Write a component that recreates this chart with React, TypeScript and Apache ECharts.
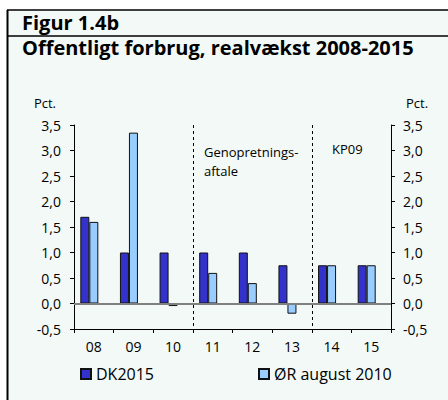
import React, { useEffect, useRef } from "react";
import * as echarts from "echarts";

const categories = ["08", "09", "10", "11", "12", "13", "14", "15"];
const dk2015 = [1.7, 1.0, 1.0, 1.0, 1.0, 0.75, 0.75, 0.75];
const orAug2010 = [1.6, 3.35, -0.05, 0.6, 0.4, -0.2, 0.75, 0.75];
const seriesNames = ["DK2015", "ØR august 2010"];
const yMin = -0.5;
const yMax = 3.5;
const yStep = 0.5;
const dividerAfter = [3, 6];

const FONT = "'Open Sans', 'Noto Sans', sans-serif";

export default function App() {
  const ref = useRef<HTMLDivElement>(null);
  useEffect(() => {
    if (!ref.current) return;
    const chart = echarts.init(ref.current, null, { renderer: "svg" });
    const fmt = (v: number) => v.toFixed(1).replace(".", ",");
    const yAxisBase = {
      type: "value",
      min: yMin,
      max: yMax,
      interval: yStep,
      splitLine: { show: false },
      axisLine: { show: true, lineStyle: { color: "#000", width: 1 } },
      axisTick: { show: true, length: 4, lineStyle: { color: "#000" } },
      axisLabel: { formatter: fmt, fontSize: 14, color: "#000", fontFamily: FONT },
      name: "Pct.",
      nameLocation: "end",
      nameGap: 16,
    };
    chart.setOption({
      animation: false,
      backgroundColor: "#F2F9F7",
      textStyle: { fontFamily: FONT },
      graphic: [
        { type: "rect", shape: { x: 0, y: 0, width: 448, height: 10 }, style: { fill: "#fff" } },
        { type: "rect", shape: { x: 0, y: 0, width: 7, height: 400 }, style: { fill: "#fff" } },
        { type: "line", shape: { x1: 7, y1: 10, x2: 448, y2: 10 }, style: { stroke: "#000", lineWidth: 1.5 } },
        { type: "line", shape: { x1: 7.5, y1: 10, x2: 7.5, y2: 400 }, style: { stroke: "#000", lineWidth: 2 } },
        { type: "line", shape: { x1: 7, y1: 36, x2: 448, y2: 36 }, style: { stroke: "#000", lineWidth: 1.5 } },
        {
          type: "text", left: 22, top: 12,
          style: { text: "Figur 1.4b", font: `bold 20px ${FONT}`, fill: "#000" },
        },
        {
          type: "text", left: 22, top: 37,
          style: { text: "Offentligt forbrug, realvækst 2008-2015", font: `bold 20px ${FONT}`, fill: "#000" },
        },
        {
          type: "text", left: 204, top: 142,
          style: { text: "Genopretnings-\naftale", font: `13px ${FONT}`, fill: "#000", lineHeight: 19 },
        },
        {
          type: "text", left: 332, top: 142,
          style: { text: "KP09", font: `13px ${FONT}`, fill: "#000" },
        },
      ],
      grid: { left: 74, right: 57, top: 125, bottom: 71, containLabel: false },
      legend: [
        {
          data: [seriesNames[0]], left: 75, top: 361, itemWidth: 10, itemHeight: 10, icon: "rect",
          textStyle: { fontSize: 16, color: "#000", fontFamily: FONT },
        },
        {
          data: [seriesNames[1]], left: 253, top: 361, itemWidth: 10, itemHeight: 10, icon: "rect",
          textStyle: { fontSize: 16, color: "#000", fontFamily: FONT },
        },
      ],
      xAxis: {
        type: "category",
        data: categories,
        boundaryGap: true,
        axisLine: { onZero: false, lineStyle: { color: "#000" } },
        axisTick: { show: true, length: 4, inside: false, lineStyle: { color: "#000" } },
        axisLabel: { fontSize: 14, color: "#000", margin: 10, fontFamily: FONT },
        splitLine: {
          show: true,
          interval: (i: number) => dividerAfter.includes(i),
          lineStyle: { color: "#000", type: [3, 3], width: 1 },
        },
      },
      yAxis: [
        {
          ...yAxisBase,
          position: "left",
          axisLabel: { ...yAxisBase.axisLabel, margin: 13 },
          nameTextStyle: { fontSize: 13, color: "#000", align: "right", padding: [0, 18, 0, 0], fontFamily: FONT },
        },
        {
          ...yAxisBase,
          position: "right",
          axisLabel: { ...yAxisBase.axisLabel, margin: 12 },
          nameTextStyle: { fontSize: 13, color: "#000", align: "left", padding: [0, 0, 0, 15], fontFamily: FONT },
        },
      ],
      series: [
        {
          name: seriesNames[0],
          type: "bar",
          data: dk2015,
          barWidth: 9,
          barGap: "0%",
          itemStyle: { color: "#3333CC", borderColor: "#111", borderWidth: 1 },
          markLine: {
            silent: true,
            symbol: "none",
            label: { show: false },
            lineStyle: { color: "#808080", width: 2, type: "solid" },
            data: [{ yAxis: 0 }],
          },
        },
        {
          name: seriesNames[1],
          type: "bar",
          data: orAug2010,
          barWidth: 9,
          barGap: "0%",
          itemStyle: { color: "#99CCFF", borderColor: "#111", borderWidth: 1 },
        },
        {
          name: "_spacer",
          type: "bar",
          data: categories.map(() => null),
          barWidth: 9,
          barGap: "0%",
          silent: true,
        },
      ],
    });
    return () => chart.dispose();
  }, []);
  return (
    <div
      ref={ref}
      style={{ position: "absolute", left: 0, top: 0, width: 448, height: 400 }}
    />
  );
}
